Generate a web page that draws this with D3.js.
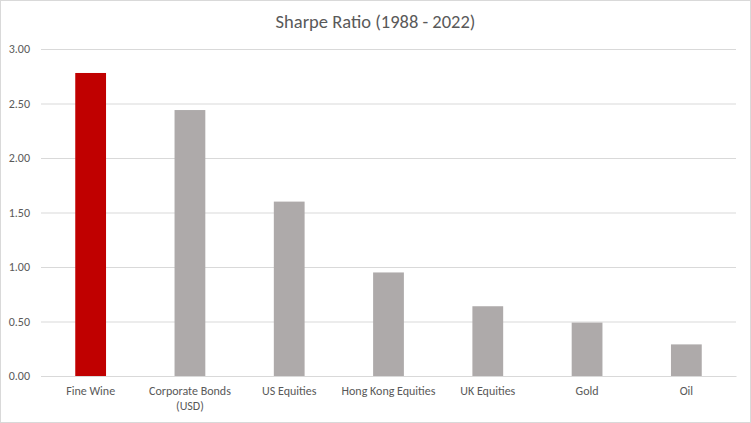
<!DOCTYPE html>
<html><head><meta charset="utf-8">
<script src="https://cdn.jsdelivr.net/npm/d3@7"></script>
<style>body{margin:0;background:#fff}svg{display:block}</style>
</head><body><svg id="c" width="751" height="423"></svg>
<script>
const categories = ["Fine Wine", "Corporate Bonds (USD)", "US Equities", "Hong Kong Equities", "UK Equities", "Gold", "Oil"];
const values = [2.78, 2.44, 1.60, 0.95, 0.64, 0.49, 0.29];
const barColors = ["#c00000", "#aeaaaa", "#aeaaaa", "#aeaaaa", "#aeaaaa", "#aeaaaa", "#aeaaaa"];
const yTicks = [0, 0.5, 1, 1.5, 2, 2.5, 3];
const title = "Sharpe Ratio (1988 - 2022)";

const font = "Carlito, Calibri, 'Liberation Sans Narrow', 'Open Sans', sans-serif";
const svg = d3.select("#c");
const W = 751, H = 423;
const m = {left: 41, right: 15, top: 49, bottom: 47};
svg.append("rect").attr("x", 0.5).attr("y", 0.5).attr("width", W - 1).attr("height", H - 1)
  .attr("fill", "#fff").attr("stroke", "#d9d9d9");

const x = d3.scaleBand().domain(categories).range([m.left, W - m.right]).paddingInner(0.69).paddingOuter(0.345);
const y = d3.scaleLinear().domain([0, 3]).range([H - m.bottom, m.top]);

svg.append("text").attr("x", W / 2).attr("y", 28).attr("text-anchor", "middle")
  .attr("font-family", font).attr("font-size", 18.5).attr("fill", "#595959").text(title);

const ya = svg.append("g").attr("transform", `translate(${m.left},0)`)
  .call(d3.axisLeft(y).tickValues(yTicks).tickFormat(d3.format(".2f")).tickSize(-(W - m.left - m.right)).tickPadding(11));
ya.select(".domain").remove();
ya.selectAll(".tick line").attr("stroke", "#d9d9d9");
ya.selectAll(".tick text").attr("font-family", font).attr("font-size", 12).attr("fill", "#595959");

svg.append("g").selectAll("rect").data(values).join("rect")
  .attr("x", (d, i) => x(categories[i])).attr("width", x.bandwidth())
  .attr("y", d => y(d)).attr("height", d => y(0) - y(d))
  .attr("fill", (d, i) => barColors[i]);

const xa = svg.append("g").attr("transform", `translate(0,${y(0)})`)
  .call(d3.axisBottom(x).tickSize(0).tickPadding(10));
xa.select(".domain").attr("stroke", "#d9d9d9");
xa.selectAll(".tick text").attr("font-family", font).attr("font-size", 12).attr("fill", "#595959")
  .each(function(d) {
    const t = d3.select(this);
    if (d === "Corporate Bonds (USD)") {
      t.text(null);
      t.append("tspan").attr("x", 0).attr("dy", "0.71em").text("Corporate Bonds");
      t.append("tspan").attr("x", 0).attr("dy", "1.25em").text("(USD)");
      t.attr("dy", null);
    }
  });
</script></body></html>
